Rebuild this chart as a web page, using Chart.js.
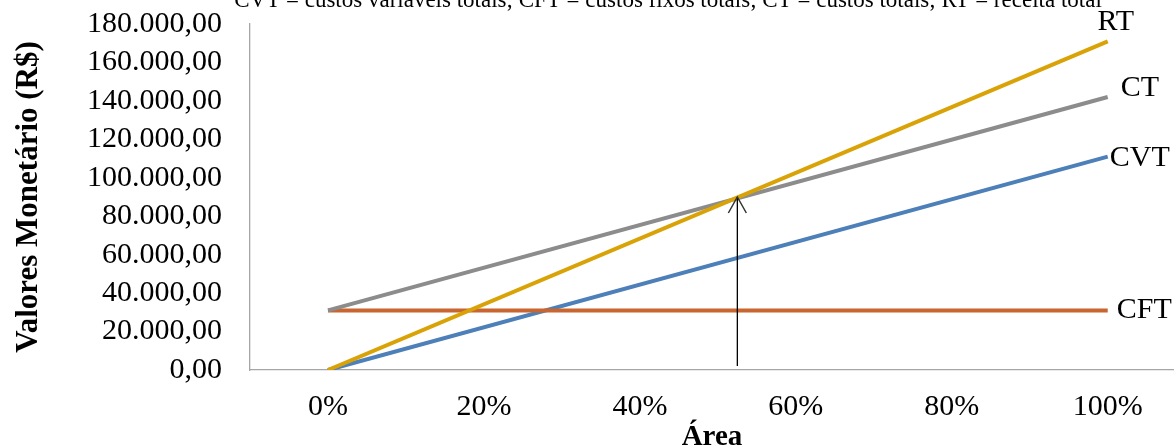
<!DOCTYPE html>
<html>
<head>
<meta charset="utf-8">
<script src="https://cdn.jsdelivr.net/npm/chart.js@4"></script>
<style>
  html, body { margin: 0; padding: 0; background: #fff; overflow: hidden; }
  #wrap { position: relative; width: 1174px; height: 446px; }
</style>
</head>
<body>
<div id="wrap"><canvas id="c" width="1174" height="446"></canvas></div>
<script>
// Share of the area (x) and monetary values (R$) at each end of the lines
const areaPct = [0, 100];
const rtValues  = [0, 171000];      // receita total
const ctValues  = [31000, 142000];  // custos totais
const cftValues = [31000, 31000];   // custos fixos totais
const cvtValues = [0, 111000];      // custos variáveis totais

// Break-even marker (arrow)
const arrowX = [52.5, 52.5];
const arrowY = [0, 90000];

const xTicks = [0, 20, 40, 60, 80, 100];
const yTicks = [0, 20000, 40000, 60000, 80000, 100000, 120000, 140000, 160000, 180000];

const captionText = 'CVT = custos variáveis totais; CFT = custos fixos totais; CT = custos totais; RT = receita total';

const SERIF = '"Liberation Serif", "Times New Roman", serif';

function pts(xs, ys) { return xs.map((x, i) => ({ x: x, y: ys[i] })); }

const fmtBR = v => v.toLocaleString('pt-BR', { minimumFractionDigits: 2, maximumFractionDigits: 2 });

// Name tags placed next to the last point of each line
const endTags = {
  RT:  { dx: 8,  dy: -19, align: 'center' },
  CT:  { dx: 13, dy: -9,  align: 'left' },
  CVT: { dx: 2,  dy: 1,   align: 'left' },
  CFT: { dx: 9,  dy: 0,   align: 'left' }
};

const overlay = {
  id: 'overlay',
  afterDatasetsDraw(chart) {
    const { ctx, scales: { x, y } } = chart;
    ctx.save();
    // arrow
    const x0 = x.getPixelForValue(arrowX[0]);
    const y0 = y.getPixelForValue(arrowY[0]) - 4;
    const x1 = x.getPixelForValue(arrowX[1]);
    const y1 = y.getPixelForValue(arrowY[1]);
    ctx.strokeStyle = '#000';
    ctx.lineWidth = 1.3;
    ctx.beginPath();
    ctx.moveTo(x0, y0);
    ctx.lineTo(x1, y1);
    ctx.stroke();
    ctx.lineWidth = 1.5;
    ctx.strokeStyle = '#333';
    ctx.beginPath();
    ctx.moveTo(x1 - 9, y1 + 16);
    ctx.lineTo(x1, y1);
    ctx.lineTo(x1 + 9, y1 + 16);
    ctx.stroke();

    // series name tags
    ctx.fillStyle = '#000';
    ctx.font = '30px ' + SERIF;
    ctx.textBaseline = 'middle';
    chart.data.datasets.forEach((ds, i) => {
      const tag = endTags[ds.label];
      const last = ds.data[ds.data.length - 1];
      const px = x.getPixelForValue(last.x);
      const py = y.getPixelForValue(last.y);
      ctx.textAlign = tag.align;
      ctx.fillText(ds.label, px + tag.dx, py + tag.dy);
    });

    // caption along the top edge
    ctx.font = '23px ' + SERIF;
    ctx.textAlign = 'center';
    ctx.textBaseline = 'alphabetic';
    ctx.fillText(captionText, 668, 7);
    ctx.restore();
  }
};

new Chart(document.getElementById('c'), {
  type: 'scatter',
  data: {
    datasets: [
      { label: 'RT',  data: pts(areaPct, rtValues),  borderColor: '#d9a308' },
      { label: 'CT',  data: pts(areaPct, ctValues),  borderColor: '#8c8c8c' },
      { label: 'CFT', data: pts(areaPct, cftValues), borderColor: '#c9652f' },
      { label: 'CVT', data: pts(areaPct, cvtValues), borderColor: '#4d7fb8' }
    ].map(d => Object.assign(d, {
      showLine: true, borderWidth: 4, pointRadius: 0, pointHoverRadius: 0,
      borderCapStyle: 'butt', fill: false
    }))
  },
  options: {
    responsive: false,
    animation: false,
    events: [],
    layout: { padding: { left: 0, right: 0, top: 24, bottom: 0 } },
    plugins: { legend: { display: false }, tooltip: { enabled: false }, title: { display: false } },
    scales: {
      x: {
        type: 'linear',
        min: -10,
        max: 108.5,
        afterBuildTicks: s => { s.ticks = xTicks.map(v => ({ value: v })); },
        afterFit: s => { s.height = 76; s.paddingLeft = 0; s.paddingRight = 0; },
        grid: { display: false, drawTicks: false },
        border: { display: true, color: '#a6a6a6', width: 1.3 },
        ticks: {
          padding: 19,
          color: '#000',
          font: { family: SERIF, size: 30 },
          callback: v => v + '%',
          maxRotation: 0,
          autoSkip: false
        },
        title: {
          display: true,
          text: 'Área',
          color: '#000',
          font: { family: SERIF, size: 29, weight: 'bold', lineHeight: 1 },
          padding: { top: 0, bottom: -6 }
        }
      },
      y: {
        type: 'linear',
        min: 0,
        max: 180000,
        afterBuildTicks: s => { s.ticks = yTicks.map(v => ({ value: v })); },
        afterFit: s => { s.width = 250; s.paddingTop = 0; s.paddingBottom = 0; },
        grid: { display: false, drawTicks: false },
        border: { display: true, color: '#a6a6a6', width: 1.3 },
        ticks: {
          padding: 28,
          color: '#000',
          font: { family: SERIF, size: 30 },
          callback: v => fmtBR(v),
          autoSkip: false
        },
        title: {
          display: true,
          text: 'Valores Monetário (R$)',
          color: '#000',
          font: { family: SERIF, size: 31, weight: 'bold', lineHeight: 1.2 },
          padding: { top: 10, bottom: 0 }
        }
      }
    }
  },
  plugins: [overlay]
});
</script>
</body>
</html>
